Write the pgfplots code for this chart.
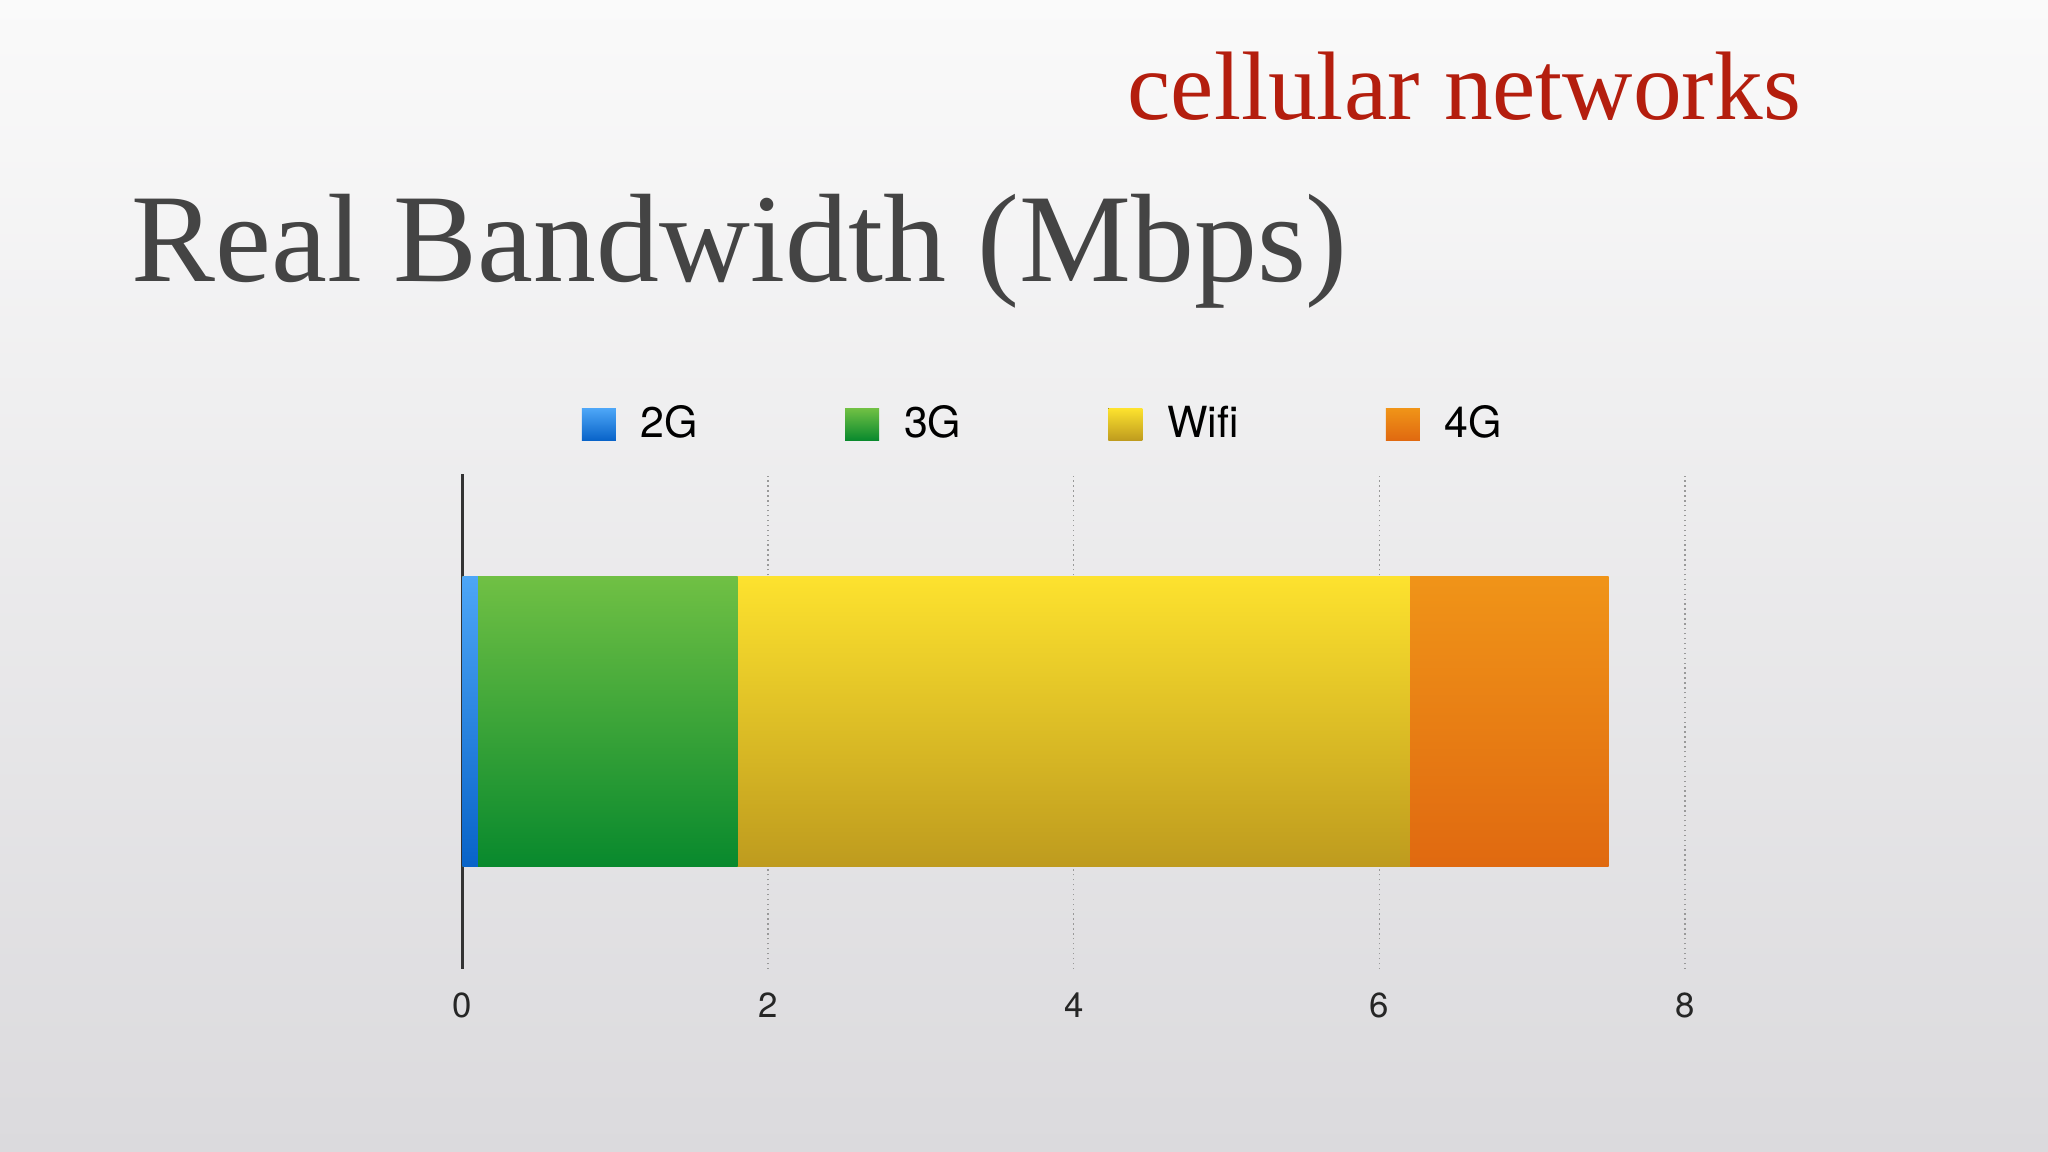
\documentclass[border=0pt]{standalone}
\usepackage{fontspec}
\setmainfont{Liberation Serif}
\newfontfamily\hel{TeX Gyre Heros}
\usepackage{pgfplots}
\pgfplotsset{compat=1.18}

\definecolor{bgtop}{RGB}{250,250,250}
\definecolor{bgbot}{RGB}{219,218,221}
\definecolor{titlegray}{RGB}{68,68,68}
\definecolor{cellred}{RGB}{180,30,14}
\definecolor{twoGt}{RGB}{77,166,247}
\definecolor{twoGb}{RGB}{8,99,200}
\definecolor{threeGt}{RGB}{112,192,68}
\definecolor{threeGb}{RGB}{8,137,45}
\definecolor{wifit}{RGB}{253,226,46}
\definecolor{wifib}{RGB}{190,155,30}
\definecolor{fourGt}{RGB}{240,148,24}
\definecolor{fourGb}{RGB}{224,105,16}

\begin{document}
\begin{tikzpicture}
  % slide background, 1cm = 100px
  \shade[top color=bgtop, bottom color=bgbot] (0,0) rectangle (20.48,11.52);

  \node[anchor=base west, inner sep=0pt, text=cellred,
        font=\fontsize{27.7}{30}\selectfont] at (11.27,10.32) {cellular networks};
  \node[anchor=base west, inner sep=0pt, text=titlegray,
        font=\fontsize{35.8}{40}\selectfont] at (1.31,8.70) {Real Bandwidth (Mbps)};

  \begin{axis}[
    at={(4.625cm,1.83cm)},
    anchor=south west,
    scale only axis,
    width=12.225cm,
    height=4.95cm,
    xbar,
    bar shift=0pt,
    bar width=2.9cm,
    xmin=0, xmax=8,
    ymin=-1, ymax=1,
    ytick=\empty,
    xtick={2,4,6,8},
    extra x ticks={0},
    extra x tick style={grid style={solid, draw=black!80, line width=0.6pt}},
    axis line style={draw=none},
    major tick length=0pt,
    xmajorgrids=true,
    grid style={densely dotted, draw=gray!80, line width=0.4pt},
    /pgf/number format/assume math mode=true,
    xticklabel style={font=\hel\fontsize{9.9}{12}\selectfont, text=black!85, yshift=-0.115cm},
    reverse legend,
    legend columns=4,
    legend style={
      at={(0.097,1.100)},
      anchor=west,
      draw=none,
      fill=none,
      inner sep=0pt,
      font=\hel\fontsize{12.2}{14}\selectfont,
      /tikz/every odd column/.append style={column sep=0.18cm},
      /tikz/every even column/.append style={column sep=1.4cm},
    },
    legend image code/.code={
      \fill[#1] (0cm,-0.16cm) rectangle (0.34cm,0.16cm);
    },
  ]
  % bars overlap from zero, widest first
  \addplot[draw=none, top color=fourGt, bottom color=fourGb]
    coordinates {(7.5,0)};
  \addplot[draw=none, top color=wifit, bottom color=wifib]
    coordinates {(6.2,0)};
  \addplot[draw=none, top color=threeGt, bottom color=threeGb]
    coordinates {(1.8,0)};
  \addplot[draw=none, top color=twoGt, bottom color=twoGb]
    coordinates {(0.1,0)};
  \legend{4G, Wifi, 3G, 2G}
  \end{axis}
\end{tikzpicture}
\end{document}
